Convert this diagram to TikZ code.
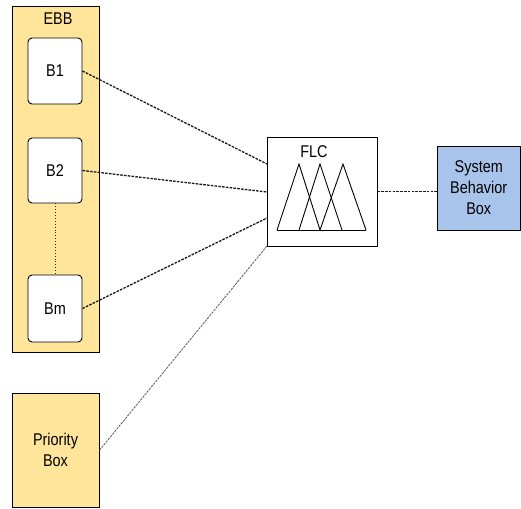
\documentclass[tikz,border=0pt]{standalone}
\usepackage{fontspec}
\setmainfont{Liberation Sans}[FakeStretch=0.85]
\definecolor{ebbfill}{RGB}{255,229,153}
\definecolor{sbbfill}{RGB}{169,196,235}
\begin{document}
\begin{tikzpicture}[x=1pt,y=-1pt,
  box/.style={draw=black, line width=0.9pt, inner sep=0pt, align=center,
    font=\fontsize{17}{21}\selectfont},
  ybox/.style={box, fill=ebbfill},
  bbox/.style={box, fill=white, rounded corners=4pt},
  fbox/.style={box, fill=white},
  sbox/.style={box, fill=sbbfill},
  conn/.style={draw=black!90, line width=1.3pt, dash pattern=on 2.6pt off 1.2pt},
  thinconn/.style={draw=black!65, line width=0.8pt, dash pattern=on 2.4pt off 1pt},
  tri/.style={draw=black, line width=0.9pt, line join=miter}]
\useasboundingbox (0,0) rectangle (521,508);
% EBB container
\node[ybox, minimum width=87, minimum height=346] (ebb) at (55.5,179) {};
\node[font=\fontsize{17}{21}\selectfont, inner sep=0pt] (ebbl) at (58,19) {EBB};
% B boxes
\node[bbox, minimum width=54, minimum height=66] (b1) at (55,71) {B1};
\node[bbox, minimum width=54, minimum height=65] (b2) at (55,170.5) {B2};
\node[bbox, minimum width=54, minimum height=67] (bm) at (55,308.5) {Bm};
\draw[dotted, line width=0.9pt, black!85] (b2.south) -- (bm.north);
% FLC
\node[fbox, minimum width=110, minimum height=109] (flc) at (322,191.5) {};
\node[font=\fontsize{17}{21}\selectfont, inner sep=0pt] (flcl) at (314,152) {FLC};
\draw[tri] (277,230) -- (299,164) -- (320,230);
\draw[tri] (299,230) -- (320,164) -- (342,230);
\draw[tri] (320,230) -- (343,164) -- (366,230);
\draw[tri] (277,230) -- (366,230);
% System behavior box
\node[sbox, minimum width=83.5, minimum height=84] (sbb) at (478.75,188) {System\\Behavior\\Box};
% Priority box
\node[ybox, minimum width=87, minimum height=114.5] (prio) at (55.5,450.25) {Priority\\Box};
% connector points on FLC
\coordinate (f1) at (267,164);
\coordinate (f2) at (267,192);
\coordinate (f3) at (267,218);
\coordinate (f4) at (267,246);
\draw[conn] (b1.east) -- (f1);
\draw[conn] (b2.east) -- (f2);
\draw[conn] (bm.east) -- (f3);
\draw[thinconn] (prio.east) -- (f4);
\draw[conn] (flc.east) -- (sbb.west |- flc.east);
\end{tikzpicture}
\end{document}
